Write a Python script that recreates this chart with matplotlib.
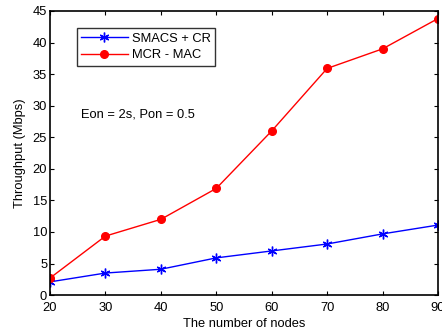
import matplotlib
matplotlib.use("Agg")
import matplotlib.pyplot as plt

plt.rcParams["font.family"] = ["Liberation Sans", "DejaVu Sans"]

# ── Data ──────────────────────────────────────────────────────────────────────
nodes = [20, 30, 40, 50, 60, 70, 80, 90]
smacs_cr = [2.1, 3.5, 4.1, 5.9, 7.0, 8.1, 9.7, 11.1]
mcr_mac = [2.7, 9.35, 12.0, 16.9, 26.0, 35.9, 39.0, 43.8]
x_ticks = [20, 30, 40, 50, 60, 70, 80, 90]
y_ticks = [0, 5, 10, 15, 20, 25, 30, 35, 40, 45]

FS = 9.3

fig = plt.figure(figsize=(4.42, 3.32), dpi=100)
ax = fig.add_axes([0.113, 0.111, 0.878, 0.856])

ax.plot(nodes, smacs_cr, color="blue", lw=1.0, marker=(6, 2, 0),
        markersize=7, markeredgewidth=1.0, label="SMACS + CR")
ax.plot(nodes, mcr_mac, color="red", lw=1.0, marker="o",
        markersize=5.5, label="MCR - MAC")

ax.set_xlim(20, 90)
ax.set_ylim(0, 45)
ax.set_xticks(x_ticks)
ax.set_yticks(y_ticks)
ax.tick_params(direction="in", top=True, right=True, labelsize=FS,
               length=3, width=0.8, pad=2)
ax.tick_params(axis="x", pad=5)
for s in ax.spines.values():
    s.set_linewidth(1.2)

ax.set_xlabel("The number of nodes", fontsize=FS, labelpad=3)
ax.set_ylabel("Throughput (Mbps)", fontsize=FS, labelpad=5)

leg = ax.legend(loc="upper left", bbox_to_anchor=(0.069, 0.94), fontsize=FS,
                frameon=True, fancybox=False, edgecolor="black",
                handlelength=3.6, borderpad=0.35, labelspacing=0.35,
                handletextpad=0.3, borderaxespad=0)
leg.get_frame().set_linewidth(1.0)

ax.text(0.08, 0.635, "Eon = 2s, Pon = 0.5", transform=ax.transAxes,
        fontsize=FS, va="center", ha="left")

fig.savefig("out.png", dpi=100)
